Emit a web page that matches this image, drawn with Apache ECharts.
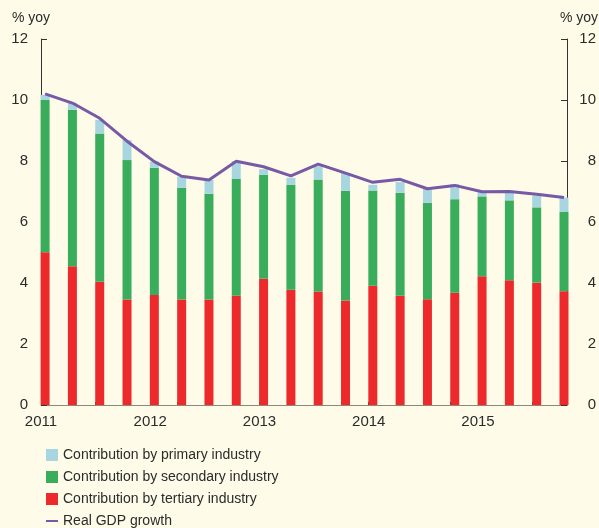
<!DOCTYPE html>
<html>
<head>
<meta charset="utf-8">
<script src="https://cdn.jsdelivr.net/npm/echarts@6/dist/echarts.min.js"></script>
<style>
  html, body { margin: 0; padding: 0; background: #fefbe8; }
  #chart { width: 599px; height: 528px; }
</style>
</head>
<body>
<div id="chart"></div>
<script>
// ── Data: quarterly contributions to China's real GDP growth, % yoy ──
const quarters = [
  '2011 Q1', '2011 Q2', '2011 Q3', '2011 Q4',
  '2012 Q1', '2012 Q2', '2012 Q3', '2012 Q4',
  '2013 Q1', '2013 Q2', '2013 Q3', '2013 Q4',
  '2014 Q1', '2014 Q2', '2014 Q3', '2014 Q4',
  '2015 Q1', '2015 Q2', '2015 Q3', '2015 Q4',
];
const yearLabels = ['2011', '2012', '2013', '2014', '2015'];

const tertiary  = [5.01, 4.55, 4.04, 3.46, 3.61, 3.46, 3.46, 3.58, 4.14, 3.78,
                   3.72, 3.43, 3.91, 3.58, 3.47, 3.68, 4.22, 4.09, 4.01, 3.73];
const secondary = [4.99, 5.13, 4.86, 4.57, 4.17, 3.66, 3.47, 3.83, 3.41, 3.44,
                   3.67, 3.59, 3.12, 3.38, 3.16, 3.07, 2.62, 2.62, 2.47, 2.60];
const primary   = [0.17, 0.23, 0.45, 0.66, 0.20, 0.37, 0.45, 0.59, 0.18, 0.23,
                   0.44, 0.58, 0.19, 0.35, 0.46, 0.49, 0.14, 0.26, 0.39, 0.47];
const gdpGrowth = [10.2, 9.9, 9.4, 8.65, 7.98, 7.5, 7.38, 7.99, 7.81, 7.51,
                   7.9, 7.6, 7.3, 7.4, 7.09, 7.2, 6.99, 7.0, 6.91, 6.8];

const FONT = '"Liberation Sans", Arial, sans-serif';
const TEXT = '#2b2b2b';
const RED = '#ed2a2b';
const GREEN = '#3aad5c';
const BLUE = '#a7d6e0';
const PURPLE = '#7859a4';

// x axis counts quarters; each bar sits just after the start of its quarter
const BAR_POS = 0.15;
const X_MAX = quarters.length - 0.74;
// value first so the stack runs on y (both axes are value axes)
const at = vals => vals.map((v, i) => [v, i + BAR_POS]);
const ENCODE = { x: 1, y: 0 };

function yAxis(pos) {
  return {
    type: 'value',
    position: pos,
    min: 0, max: 12, interval: 2,
    axisLine: { show: true, lineStyle: { color: '#333', width: 1 } },
    axisTick: { show: true, inside: true, length: 6, lineStyle: { color: '#333' } },
    axisLabel: {
      color: TEXT, fontFamily: FONT, fontSize: 15,
      align: 'right',
      margin: pos === 'left' ? 13 : 29,
    },
    splitLine: { show: false },
  };
}

const chart = echarts.init(document.getElementById('chart'), null, { renderer: 'canvas' });

chart.setOption({
  animation: false,
  backgroundColor: '#fefbe8',
  grid: { left: 41, right: 31, top: 39, bottom: 123 },
  xAxis: {
    type: 'value',
    min: 0, max: X_MAX, interval: 1,
    axisLine: { show: true, lineStyle: { color: '#8c8878', width: 1 } },
    axisTick: { show: true, inside: true, length: 3, lineStyle: { color: '#333' } },
    axisLabel: {
      color: TEXT, fontFamily: FONT, fontSize: 15, margin: 9,
      showMinLabel: true, showMaxLabel: false,
      formatter: v => (v % 4 === 0 ? yearLabels[v / 4] : ''),
    },
    splitLine: { show: false },
  },
  yAxis: [yAxis('left'), yAxis('right')],
  legend: {
    orient: 'vertical',
    left: 45, top: 448, height: 140,
    padding: 0,
    itemWidth: 12, itemHeight: 12, itemGap: 8,
    textStyle: { color: TEXT, fontFamily: FONT, fontSize: 14 },
    data: [
      { name: 'Contribution by primary industry', icon: 'rect' },
      { name: 'Contribution by secondary industry', icon: 'rect' },
      { name: 'Contribution by tertiary industry', icon: 'rect' },
      // plain line key, no marker
      { name: 'Real GDP growth', itemStyle: { opacity: 0 } },
    ],
  },
  graphic: [
    { type: 'text', left: 12, top: 11,
      style: { text: '% yoy', fill: TEXT, font: '14px ' + FONT } },
    { type: 'text', right: 1, top: 11,
      style: { text: '% yoy', fill: TEXT, font: '14px ' + FONT } },
  ],
  series: [
    {
      name: 'Contribution by tertiary industry',
      type: 'bar', stack: 'gdp', barWidth: 9, encode: ENCODE,
      itemStyle: { color: RED },
      data: at(tertiary),
    },
    {
      name: 'Contribution by secondary industry',
      type: 'bar', stack: 'gdp', barWidth: 9, encode: ENCODE,
      itemStyle: { color: GREEN },
      data: at(secondary),
    },
    {
      name: 'Contribution by primary industry',
      type: 'bar', stack: 'gdp', barWidth: 9, encode: ENCODE,
      itemStyle: { color: BLUE },
      data: at(primary),
    },
    {
      name: 'Real GDP growth',
      type: 'line', encode: ENCODE,
      symbol: 'none',
      z: 4,
      lineStyle: { color: PURPLE, width: 3 },
      itemStyle: { color: PURPLE },
      data: at(gdpGrowth),
    },
  ],
});
</script>
</body>
</html>
